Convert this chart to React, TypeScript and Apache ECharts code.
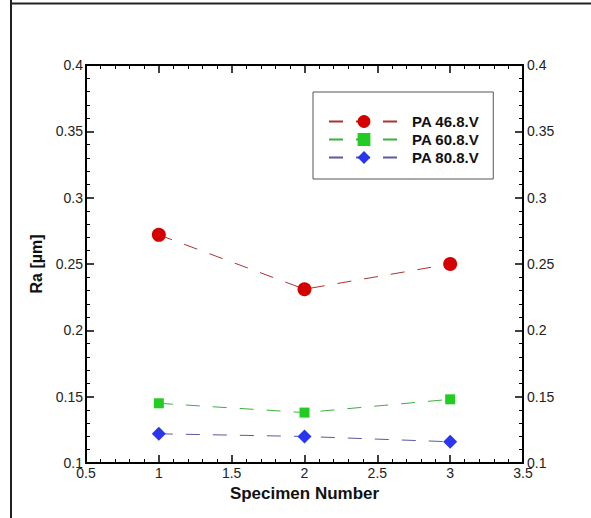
import React, { useEffect, useRef } from "react";
import * as echarts from "echarts";

const specimens = [1, 2, 3];
const seriesNames = ["PA 46.8.V", "PA 60.8.V", "PA 80.8.V"];
const pa468 = [0.272, 0.231, 0.25];
const pa608 = [0.145, 0.138, 0.148];
const pa808 = [0.122, 0.12, 0.116];

const FONT = "'Liberation Sans', Arial, sans-serif";

export default function App() {
  const ref = useRef<HTMLDivElement>(null);
  useEffect(() => {
    if (!ref.current) return;
    const chart = echarts.init(ref.current, undefined, { renderer: "svg" });
    const axisCommon = {
      axisLine: { show: true, onZero: false, lineStyle: { color: "#000", width: 2 } },
      axisTick: { show: true, inside: true, length: 8, lineStyle: { color: "#000", width: 1.5 } },
      minorTick: { show: true, splitNumber: 5, length: 4, lineStyle: { color: "#000", width: 1 } },
      splitLine: { show: false },
      minorSplitLine: { show: false },
    };
    const labelStyle = { color: "#222", fontFamily: FONT, fontSize: 14 };
    const xBase = { type: "value", min: 0.5, max: 3.5, interval: 0.5, ...axisCommon };
    const yBase = { type: "value", min: 0.1, max: 0.4, interval: 0.05, ...axisCommon };
    const mk = (name: string, vals: number[], symbol: string, size: number, mColor: string, lColor: string) => ({
      name,
      type: "line",
      data: specimens.map((s, i) => [s, vals[i]]),
      symbol,
      symbolSize: size,
      itemStyle: { color: mColor },
      lineStyle: { color: lColor, width: 1, type: [14, 13] },
      xAxisIndex: 0,
      yAxisIndex: 0,
    });
    chart.setOption({
      animation: false,
      backgroundColor: "#fff",
      grid: { left: 86, right: 68, top: 65, bottom: 55, containLabel: false },
      xAxis: [
        {
          ...xBase,
          position: "bottom",
          name: "Specimen Number",
          nameLocation: "middle",
          nameGap: 20,
          nameTextStyle: { color: "#111", fontFamily: FONT, fontSize: 17, fontWeight: "bold" },
          axisLabel: { ...labelStyle, margin: 3 },
        },
        { ...xBase, position: "top", axisLabel: { show: false } },
      ],
      yAxis: [
        {
          ...yBase,
          position: "left",
          name: "Ra [µm]",
          nameLocation: "middle",
          nameGap: 40,
          nameTextStyle: { color: "#111", fontFamily: FONT, fontSize: 16, fontWeight: "bold" },
          axisLabel: { ...labelStyle, margin: 3 },
        },
        { ...yBase, position: "right", axisLabel: { ...labelStyle, margin: 4 } },
      ],
      legend: {
        orient: "vertical",
        left: 313,
        top: 92,
        padding: [22, 14, 14, 15],
        itemWidth: 70,
        itemHeight: 16,
        itemGap: 3,
        backgroundColor: "#fff",
        borderColor: "#555",
        borderWidth: 1,
        borderRadius: 0,
        data: seriesNames,
        textStyle: { color: "#111", fontFamily: FONT, fontSize: 15, fontWeight: "bold", padding: [0, 0, 0, 8] },
      },
      graphic: [
        { type: "line", shape: { x1: 11, y1: 0, x2: 11, y2: 518 }, style: { stroke: "#222", lineWidth: 2 } },
        { type: "line", shape: { x1: 10, y1: 3.5, x2: 591, y2: 3.5 }, style: { stroke: "#222", lineWidth: 2 } },
      ],
      series: [
        mk(seriesNames[0], pa468, "circle", 14, "#d40000", "#a83434"),
        mk(seriesNames[1], pa608, "rect", 10, "#22cc22", "#3cb03c"),
        mk(seriesNames[2], pa808, "diamond", 14, "#2a35f0", "#5a5aa0"),
      ],
    });
    return () => chart.dispose();
  }, []);
  return <div ref={ref} style={{ position: "fixed", left: 0, top: 0, width: 591, height: 518 }} />;
}
